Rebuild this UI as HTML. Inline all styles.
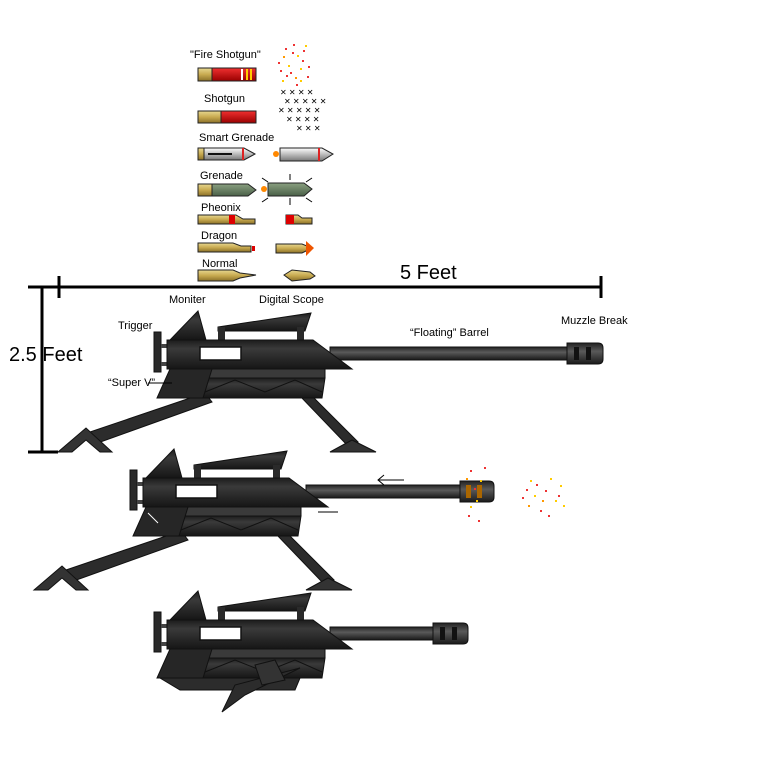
<!DOCTYPE html>
<html><head><style>html,body{margin:0;padding:0;background:#fff}svg{display:block}
text{font-family:"Liberation Sans",sans-serif;fill:#000}</style></head><body>
<svg width="777" height="777" viewBox="0 0 777 777" xmlns="http://www.w3.org/2000/svg">
<defs>
<linearGradient id="dk" x1="0" y1="0" x2="0" y2="1">
<stop offset="0" stop-color="#1c1c1c"/><stop offset="0.3" stop-color="#3a3a3a"/><stop offset="0.6" stop-color="#2a2a2a"/><stop offset="1" stop-color="#161616"/></linearGradient>
<linearGradient id="br" x1="0" y1="0" x2="0" y2="1">
<stop offset="0" stop-color="#222"/><stop offset="0.4" stop-color="#5a5a5a"/><stop offset="1" stop-color="#1a1a1a"/></linearGradient>
<linearGradient id="gd" x1="0" y1="0" x2="0" y2="1">
<stop offset="0" stop-color="#e8d890"/><stop offset="0.5" stop-color="#c8aa50"/><stop offset="1" stop-color="#8a7028"/></linearGradient>
<linearGradient id="rd" x1="0" y1="0" x2="0" y2="1">
<stop offset="0" stop-color="#f03030"/><stop offset="1" stop-color="#900"/></linearGradient>
<linearGradient id="gr" x1="0" y1="0" x2="0" y2="1">
<stop offset="0" stop-color="#8aa080"/><stop offset="1" stop-color="#4a6048"/></linearGradient>
<linearGradient id="sv" x1="0" y1="0" x2="0" y2="1">
<stop offset="0" stop-color="#fff"/><stop offset="0.5" stop-color="#bbb"/><stop offset="1" stop-color="#777"/></linearGradient>
<g id="body">
<polygon points="170,340 198,311 206,340" fill="url(#dk)" stroke="#111"/>
<polygon points="218,327 311,313 305,331 218,331" fill="url(#dk)" stroke="#111"/>
<rect x="218" y="327" width="7" height="14" fill="#2a2a2a"/>
<rect x="297" y="327" width="7" height="14" fill="#2a2a2a"/>
<rect x="154" y="332" width="7" height="40" fill="#2a2a2a" stroke="#111"/>
<rect x="161" y="344" width="6" height="4" fill="#444"/><rect x="161" y="362" width="6" height="4" fill="#444"/>
<polygon points="167,340 313,340 352,369 167,369" fill="url(#dk)" stroke="#111"/>
<rect x="200" y="347" width="41" height="13" fill="#fff" stroke="#111" stroke-width="1.5"/>
<rect x="175" y="369" width="150" height="9" fill="#3a3a3a" stroke="#111"/>
<polygon points="172,378 325,378 322,398 166,398" fill="url(#dk)" stroke="#111"/>
<polyline points="205,392 235,380 265,392 295,380 322,392" fill="none" stroke="#111"/>
<polygon points="170,369 212,369 203,398 157,398" fill="#262626" stroke="#111"/>
</g>
<g id="legs">
<polygon points="205,393 212,402 92,445 84,434" fill="#2c2c2c" stroke="#111"/>
<polygon points="58,452 86,428 112,452 100,452 86,440 72,452" fill="#333" stroke="#111"/>
<polygon points="300,396 312,396 358,442 348,446" fill="#2c2c2c" stroke="#111"/>
<polygon points="330,452 352,440 376,452" fill="#333" stroke="#111"/>
</g>
</defs>

<line x1="58" y1="287" x2="602" y2="287" stroke="#000" stroke-width="3"/>
<line x1="59" y1="276" x2="59" y2="298" stroke="#000" stroke-width="3"/>
<line x1="601" y1="276" x2="601" y2="298" stroke="#000" stroke-width="3"/>
<text x="400" y="279" font-size="20">5 Feet</text>
<line x1="42" y1="286" x2="42" y2="452" stroke="#000" stroke-width="3"/>
<line x1="28" y1="287" x2="58" y2="287" stroke="#000" stroke-width="3"/>
<line x1="28" y1="452" x2="58" y2="452" stroke="#000" stroke-width="3"/>
<text x="9" y="361" font-size="20">2.5 Feet</text>

<g font-size="11">
<text x="190" y="58">"Fire Shotgun"</text>
<text x="204" y="102">Shotgun</text>
<text x="199" y="141">Smart Grenade</text>
<text x="200" y="179">Grenade</text>
<text x="201" y="211">Pheonix</text>
<text x="201" y="239">Dragon</text>
<text x="202" y="267">Normal</text>
</g>
<rect x="198" y="68" width="14" height="13" fill="url(#gd)" stroke="#222"/><rect x="212" y="68" width="44" height="13" fill="url(#rd)" stroke="#222"/>
<rect x="241" y="69" width="2" height="11" fill="#fff"/><rect x="246" y="69" width="2" height="11" fill="#fc0"/><rect x="250" y="69" width="2" height="11" fill="#fc0"/>
<rect x="198" y="111" width="23" height="12" fill="url(#gd)" stroke="#222"/><rect x="221" y="111" width="35" height="12" fill="url(#rd)" stroke="#222"/>
<rect x="198" y="148" width="6" height="12" fill="url(#gd)" stroke="#222"/><polygon points="204,148 244,148 255,154 244,160 204,160" fill="url(#sv)" stroke="#222"/><line x1="208" y1="154" x2="232" y2="154" stroke="#111" stroke-width="2"/><rect x="242" y="148" width="2" height="12" fill="#d22"/>
<polygon points="280,148 322,148 333,154 322,161 280,161" fill="url(#sv)" stroke="#222"/><rect x="318" y="148" width="2" height="13" fill="#d22"/><circle cx="276" cy="154" r="3" fill="#f80"/>
<rect x="198" y="184" width="14" height="12" fill="url(#gd)" stroke="#222"/><polygon points="212,184 248,184 256,190 248,196 212,196" fill="url(#gr)" stroke="#222"/>
<polygon points="268,183 304,183 312,189 304,196 268,196" fill="url(#gr)" stroke="#222"/><circle cx="264" cy="189" r="3" fill="#f80"/>
<g stroke="#000"><line x1="262" y1="178" x2="268" y2="182"/><line x1="290" y1="174" x2="290" y2="180"/><line x1="312" y1="178" x2="306" y2="182"/><line x1="262" y1="202" x2="268" y2="198"/><line x1="290" y1="198" x2="290" y2="205"/><line x1="312" y1="202" x2="306" y2="198"/></g>
<polygon points="198,215 236,215 243,219 255,219 255,224 198,224" fill="url(#gd)" stroke="#222"/><rect x="229" y="215" width="6" height="9" fill="#d00"/>
<polygon points="286,215 298,215 302,218 312,218 312,224 286,224" fill="url(#gd)" stroke="#222"/><rect x="286" y="215" width="8" height="9" fill="#d00"/>
<polygon points="198,243 233,243 241,246 251,246 251,252 198,252" fill="url(#gd)" stroke="#222"/><rect x="252" y="246" width="3" height="5" fill="#d00"/>
<polygon points="276,244 302,244 312,248 302,253 276,253" fill="url(#gd)" stroke="#222"/><polygon points="306,241 314,248 306,256" fill="#e50"/>
<polygon points="198,270 233,270 240,273 256,275 240,278 233,281 198,281" fill="url(#gd)" stroke="#222"/>
<polygon points="284,275 292,270 310,272 315,276 310,279 292,281" fill="url(#gd)" stroke="#222"/>
<g fill="#e33">
<rect x="285" y="48" width="2" height="2"/><rect x="297" y="55" width="2" height="2" fill="#fc0"/><rect x="278" y="62" width="2" height="2"/><rect x="300" y="68" width="2" height="2" fill="#fc0"/><rect x="290" y="72" width="2" height="2"/><rect x="305" y="45" width="2" height="2" fill="#fc0"/><rect x="282" y="80" width="2" height="2" fill="#fc0"/><rect x="296" y="84" width="2" height="2"/><rect x="307" y="76" width="2" height="2"/>
<rect x="292" y="52" width="2" height="2"/><rect x="302" y="60" width="2" height="2"/><rect x="288" y="65" width="2" height="2" fill="#fc0"/><rect x="295" y="77" width="2" height="2" fill="#f90"/><rect x="303" y="50" width="2" height="2"/><rect x="283" y="56" width="2" height="2" fill="#f90"/><rect x="308" y="66" width="2" height="2"/><rect x="286" y="75" width="2" height="2"/><rect x="300" y="80" width="2" height="2" fill="#fc0"/><rect x="293" y="44" width="2" height="2"/><rect x="280" y="70" width="2" height="2"/>
</g>
<g font-size="8"><text x="280" y="95" fill="#777">✕ ✕ ✕ ✕</text><text x="284" y="104" fill="#777">✕ ✕ ✕ ✕ ✕</text><text x="278" y="113" fill="#777">✕ ✕ ✕ ✕ ✕</text><text x="286" y="122" fill="#777">✕ ✕ ✕ ✕</text><text x="296" y="131" fill="#777">✕ ✕ ✕</text></g>

<rect x="330" y="347" width="238" height="13" fill="url(#br)" stroke="#111"/>
<path d="M567,343 H598 Q603,343 603,348 V359 Q603,364 598,364 H567 Z" fill="url(#br)" stroke="#111"/>
<rect x="574" y="347" width="5" height="13" fill="#111"/><rect x="586" y="347" width="5" height="13" fill="#111"/>
<use href="#legs"/><use href="#body"/>
<g font-size="11"><text x="169" y="303">Moniter</text><text x="259" y="303">Digital Scope</text><text x="118" y="329">Trigger</text><text x="410" y="336">“Floating” Barrel</text><text x="561" y="324">Muzzle Break</text><text x="108" y="386">“Super V”</text></g>
<line x1="148" y1="383" x2="172" y2="383" stroke="#000"/>

<g transform="translate(-24,138)">
<rect x="330" y="347" width="154" height="13" fill="url(#br)" stroke="#111"/>
<path d="M484,343 H513 Q518,343 518,348 V359 Q518,364 513,364 H484 Z" fill="url(#br)" stroke="#111"/>
<rect x="490" y="347" width="5" height="13" fill="#a60"/><rect x="501" y="347" width="5" height="13" fill="#a60"/>
<use href="#legs"/><use href="#body"/>
<line x1="172" y1="375" x2="182" y2="385" stroke="#fff"/>
</g>
<line x1="378" y1="480" x2="404" y2="480" stroke="#000"/><polyline points="384,475 378,480 384,485" fill="none" stroke="#000"/>
<line x1="318" y1="512" x2="338" y2="512" stroke="#000"/>
<g fill="#e33">
<rect x="470" y="470" width="2" height="2"/><rect x="476" y="500" width="2" height="2" fill="#fc0"/><rect x="468" y="515" width="2" height="2"/><rect x="530" y="480" width="2" height="2" fill="#fc0"/><rect x="545" y="490" width="2" height="2"/><rect x="555" y="500" width="2" height="2" fill="#fc0"/><rect x="540" y="510" width="2" height="2"/><rect x="560" y="485" width="2" height="2" fill="#fc0"/><rect x="522" y="497" width="2" height="2"/><rect x="480" y="480" width="2" height="2" fill="#fc0"/>
<rect x="466" y="478" width="2" height="2" fill="#f90"/><rect x="474" y="488" width="2" height="2"/><rect x="470" y="506" width="2" height="2" fill="#fc0"/><rect x="478" y="520" width="2" height="2"/><rect x="484" y="467" width="2" height="2"/><rect x="528" y="505" width="2" height="2" fill="#f90"/><rect x="536" y="484" width="2" height="2"/><rect x="550" y="478" width="2" height="2" fill="#fc0"/><rect x="548" y="515" width="2" height="2"/><rect x="558" y="495" width="2" height="2"/><rect x="534" y="495" width="2" height="2" fill="#fc0"/><rect x="542" y="500" width="2" height="2" fill="#f90"/><rect x="563" y="505" width="2" height="2" fill="#fc0"/><rect x="526" y="489" width="2" height="2"/>
</g>

<g transform="translate(0,280)">
<rect x="330" y="347" width="103" height="13" fill="url(#br)" stroke="#111"/>
<path d="M433,343 H463 Q468,343 468,348 V359 Q468,364 463,364 H433 Z" fill="url(#br)" stroke="#111"/>
<rect x="440" y="347" width="5" height="13" fill="#111"/><rect x="452" y="347" width="5" height="13" fill="#111"/>
<use href="#body"/>
<polygon points="160,398 300,398 295,410 180,410" fill="#2c2c2c" stroke="#111"/>
<polygon points="222,432 235,405 300,388 245,415" fill="#2c2c2c" stroke="#111"/>
<polygon points="255,385 275,380 285,400 262,405" fill="#333" stroke="#111"/>
</g>
</svg>
</body></html>
